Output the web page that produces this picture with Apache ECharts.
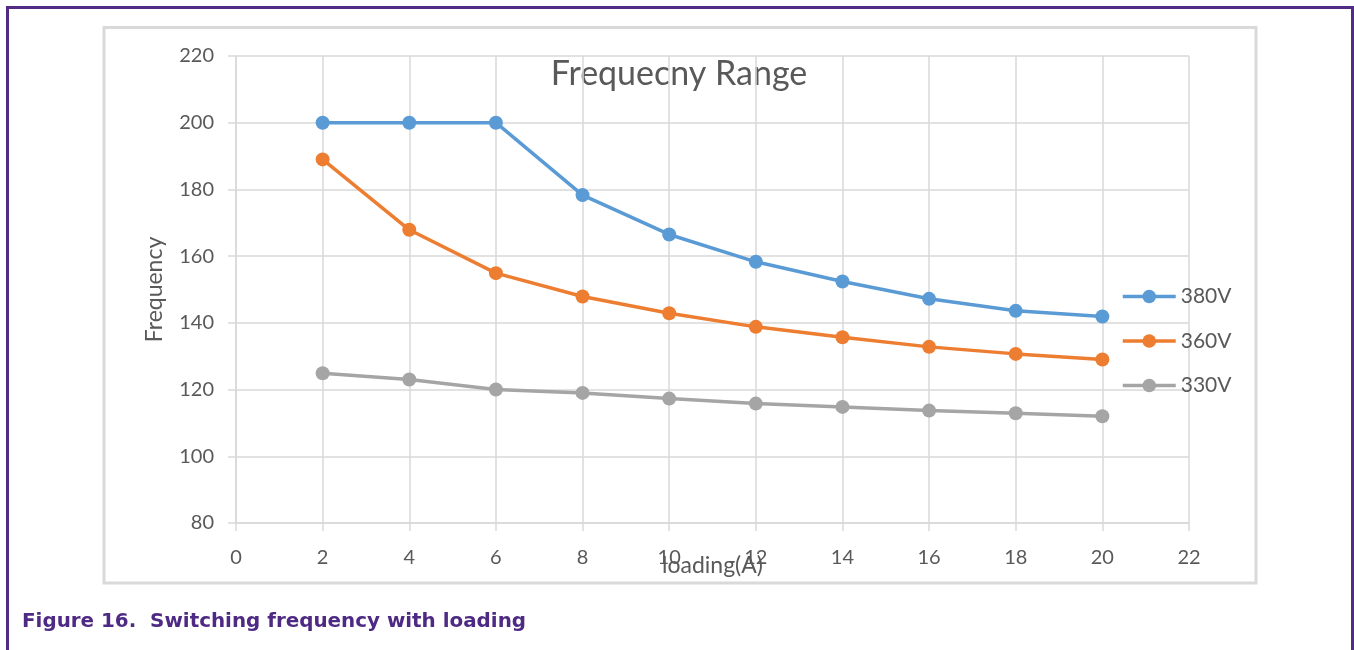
<!DOCTYPE html>
<html>
<head>
<meta charset="utf-8">
<script src="https://cdn.jsdelivr.net/npm/echarts@6/dist/echarts.min.js"></script>
<style>
  html, body { margin: 0; padding: 0; background: #ffffff; }
  #chart { width: 1354px; height: 650px; }
</style>
</head>
<body>
<div id="chart"></div>
<script>
// Switching frequency versus load current, three input voltages
const loadAmps = [2, 4, 6, 8, 10, 12, 14, 16, 18, 20];
const freq380V = [200, 200, 200, 178.3, 166.5, 158.3, 152.4, 147.2, 143.6, 141.9];
const freq360V = [189, 167.9, 154.9, 147.9, 142.9, 138.8, 135.7, 132.8, 130.7, 129];
const freq330V = [124.9, 123, 120, 119, 117.3, 115.8, 114.8, 113.7, 112.9, 112];
const seriesNames = ['380V', '360V', '330V'];
const seriesColors = ['#5b9bd5', '#ed7d31', '#a5a5a5'];

const pairs = vals => loadAmps.map((x, i) => [x, vals[i]]);
const seriesValues = [freq380V, freq360V, freq330V];

const FONT = 'Lato, "Open Sans", sans-serif';
const TEXT_GRAY = '#595959';
const GRID_GRAY = '#d9d9d9';

const chart = echarts.init(document.getElementById('chart'), null, { renderer: 'canvas' });

chart.setOption({
  animation: false,
  backgroundColor: '#ffffff',
  grid: { left: 236, right: 165, top: 56, bottom: 127, containLabel: false },
  xAxis: {
    type: 'value',
    min: 0, max: 22, interval: 2,
    name: 'loading(A)',
    nameLocation: 'middle',
    nameGap: 31,
    nameMoveOverlap: false,
    nameTextStyle: { color: TEXT_GRAY, fontFamily: FONT, fontSize: 23 },
    axisLine: { show: true, lineStyle: { color: GRID_GRAY, width: 1.5 } },
    axisTick: { show: true, length: 8, lineStyle: { color: GRID_GRAY, width: 1.5 } },
    axisLabel: { color: TEXT_GRAY, fontFamily: FONT, fontSize: 20, margin: 25 },
    splitLine: { show: true, lineStyle: { color: GRID_GRAY, width: 1.5 } }
  },
  yAxis: {
    type: 'value',
    min: 80, max: 220, interval: 20,
    name: 'Frequency',
    nameLocation: 'middle',
    nameGap: 70,
    nameMoveOverlap: false,
    nameTextStyle: { color: TEXT_GRAY, fontFamily: FONT, fontSize: 23 },
    axisLine: { show: true, lineStyle: { color: GRID_GRAY, width: 1.5 } },
    axisTick: { show: true, length: 8, lineStyle: { color: GRID_GRAY, width: 1.5 } },
    axisLabel: { color: TEXT_GRAY, fontFamily: FONT, fontSize: 20, margin: 22 },
    splitLine: { show: true, lineStyle: { color: GRID_GRAY, width: 1.5 } }
  },
  legend: {
    orient: 'vertical',
    left: 1121,
    top: 286,
    padding: 0,
    itemWidth: 53,
    itemHeight: 17,
    itemGap: 23.5,
    lineStyle: { width: 3.5 },
    textStyle: { color: TEXT_GRAY, fontFamily: FONT, fontSize: 21, lineHeight: 21 },
    data: seriesNames
  },
  series: seriesNames.map((name, i) => ({
    name: name,
    type: 'line',
    data: pairs(seriesValues[i]),
    symbol: 'circle',
    symbolSize: 14,
    lineStyle: { color: seriesColors[i], width: 3.5 },
    itemStyle: { color: seriesColors[i] },
    z: 3 - i
  })),
  graphic: [
    // outer figure frame
    {
      type: 'rect',
      shape: { x: 7.5, y: 7.5, width: 1345, height: 660 },
      style: { fill: 'none', stroke: '#512b84', lineWidth: 3 },
      silent: true
    },
    // chart area frame
    {
      type: 'rect',
      shape: { x: 104, y: 27.5, width: 1152, height: 555.5 },
      style: { fill: 'none', stroke: GRID_GRAY, lineWidth: 3 },
      silent: true,
      z: -1
    },
    {
      type: 'text',
      x: 679, y: 74,
      style: {
        text: 'Frequecny Range',
        fill: TEXT_GRAY,
        font: '34px ' + FONT,
        textAlign: 'center',
        textVerticalAlign: 'middle'
      },
      silent: true
    },
    {
      type: 'text',
      x: 22, y: 622,
      style: {
        text: 'Figure 16.  Switching frequency with loading',
        fill: '#4e2a84',
        font: 'bold 19.9px "DejaVu Sans", sans-serif',
        textAlign: 'left',
        textVerticalAlign: 'middle'
      },
      silent: true
    }
  ]
});
</script>
</body>
</html>
